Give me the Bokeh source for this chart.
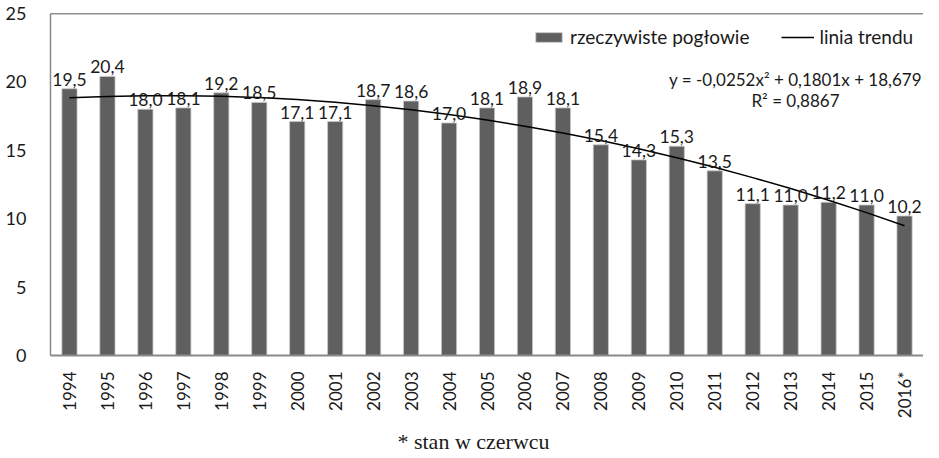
import math
from bokeh.plotting import figure
from bokeh.layouts import column
from bokeh.models import (ColumnDataSource, Legend, LegendItem, Label, Span, Div,
                          FixedTicker, Range1d)
from bokeh.embed import file_html
from bokeh.resources import INLINE

years = ["1994", "1995", "1996", "1997", "1998", "1999", "2000", "2001", "2002", "2003",
         "2004", "2005", "2006", "2007", "2008", "2009", "2010", "2011", "2012", "2013",
         "2014", "2015", "2016*"]
values = [19.5, 20.4, 18.0, 18.1, 19.2, 18.5, 17.1, 17.1, 18.7, 18.6,
          17.0, 18.1, 18.9, 18.1, 15.4, 14.3, 15.3, 13.5, 11.1, 11.0,
          11.2, 11.0, 10.2]
# trend-line coefficients as printed on the chart: y = a*x^2 + b*x + c
trend_a = -0.0252
trend_b = 0.1801
trend_c = 18.679
y_ticks = [0, 5, 10, 15, 20, 25]
footnote = "* stan w czerwcu"

FONT = "Lato"
TXT = "#1a1a1a"

trend = [trend_a * (i + 1) ** 2 + trend_b * (i + 1) + trend_c for i in range(len(years))]
labels = [f"{v:.1f}".replace(".", ",") for v in values]

src = ColumnDataSource(dict(x=years, y=values, lab=labels, trend=trend))

p = figure(x_range=years, y_range=Range1d(0, 25), width=923, height=421,
           output_backend="svg", toolbar_location=None,
           min_border_left=50, min_border_right=0, min_border_top=13, min_border_bottom=66)
p.x_range.range_padding = 0
p.outline_line_color = None
p.grid.grid_line_color = None
p.background_fill_color = "white"

bars = p.vbar(x="x", top="y", width=0.4, source=src, fill_color="#5f5f5f",
              line_color="#c8c8c8", line_width=0.8)
tl = p.line(x="x", y="trend", source=src, line_color="black", line_width=1.5)

p.text(x="x", y="y", text="lab", source=src, text_align="center", text_baseline="bottom",
       y_offset=-3, text_font_size="17.5px", text_color=TXT, text_font={"value": FONT})

p.add_layout(Span(location=25, dimension="width", line_color="#222222", line_width=1.5))

p.yaxis.ticker = FixedTicker(ticks=y_ticks)
p.yaxis.major_tick_line_color = None
p.yaxis.minor_tick_line_color = None
p.yaxis.axis_line_color = "#8a8a8a"
p.yaxis.axis_line_width = 1.5
p.yaxis.major_label_text_font = FONT
p.yaxis.major_label_text_font_size = "18px"
p.yaxis.major_label_text_color = TXT
p.yaxis.major_label_standoff = 18

p.xaxis.major_tick_line_color = None
p.xaxis.axis_line_color = "#8a8a8a"
p.xaxis.axis_line_width = 2
p.xaxis.major_label_orientation = math.pi / 2
p.xaxis.major_label_text_font = FONT
p.xaxis.major_label_text_font_size = "17px"
p.xaxis.major_label_text_color = TXT
p.xaxis.major_label_standoff = 10

legend = Legend(items=[LegendItem(label="rzeczywiste pogłowie", renderers=[bars]),
                       LegendItem(label="linia trendu", renderers=[tl])],
                orientation="horizontal", location=(482, 307),
                border_line_color=None, background_fill_alpha=0,
                label_text_font=FONT, label_text_font_size="19px", label_text_color=TXT,
                glyph_width=33, glyph_height=12, label_standoff=5, spacing=32,
                padding=0, margin=0)
p.add_layout(legend)

p.add_layout(Label(x=745, y=276, x_units="screen", y_units="screen",
                   text="y = -0,0252x² + 0,1801x + 18,679", text_align="center",
                   text_baseline="middle", text_font=FONT, text_font_size="17px",
                   text_color=TXT))
p.add_layout(Label(x=745, y=255, x_units="screen", y_units="screen",
                   text="R² = 0,8867", text_align="center",
                   text_baseline="middle", text_font=FONT, text_font_size="17px",
                   text_color=TXT))

note = Div(text=('<div style="display:block;width:923px;padding-top:5px;text-align:center;'
                 'font-family:\'Liberation Serif\';font-size:22px;line-height:22px;'
                 f'color:{TXT};"><span style="padding-left:14px">{footnote}</span></div>'),
           width=923, height=29, styles={"text-align": "center", "width": "923px"})

open("out.html", "w").write(file_html(column(p, note), INLINE))
